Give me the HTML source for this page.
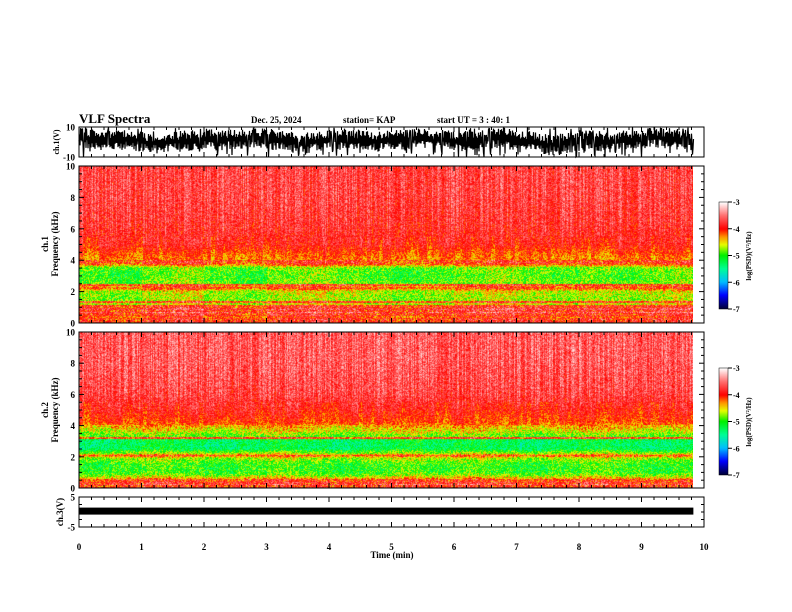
<!DOCTYPE html>
<html><head><meta charset="utf-8">
<style>
html,body{margin:0;padding:0;background:#fff;}
#root{position:relative;width:792px;height:612px;overflow:hidden;font-family:"Liberation Serif",serif;font-weight:bold;}
canvas{position:absolute;}
svg{position:absolute;left:0;top:0;}
text{font-family:"Liberation Serif",serif;font-weight:bold;fill:#000;}
</style></head>
<body>
<div id="root">
<canvas id="spec1" width="614" height="157" style="left:79px;top:166px"></canvas>
<canvas id="spec2" width="614" height="156" style="left:79px;top:332px"></canvas>
<canvas id="cb1" width="9" height="107" style="left:719px;top:202px"></canvas>
<canvas id="cb2" width="9" height="107" style="left:719px;top:368px"></canvas>
<svg id="ov" width="792" height="612">
<text x="79" y="123" font-size="13">VLF Spectra</text>
<text x="251" y="123" font-size="9">Dec. 25, 2024</text>
<text x="343" y="123" font-size="9">station= KAP</text>
<text x="437" y="123" font-size="9">start  UT =   3  : 40: 1</text>
<text x="392" y="558" font-size="9" text-anchor="middle">Time  (min)</text>
<text transform="translate(59,142) rotate(-90)" font-size="8" text-anchor="middle">ch.1(V)</text>
<text transform="translate(48,244) rotate(-90)" font-size="9" text-anchor="middle">ch.1</text>
<text transform="translate(58,244) rotate(-90)" font-size="9" text-anchor="middle">Frequency  (kHz)</text>
<text transform="translate(48,410) rotate(-90)" font-size="9" text-anchor="middle">ch.2</text>
<text transform="translate(58,410) rotate(-90)" font-size="9" text-anchor="middle">Frequency  (kHz)</text>
<text transform="translate(63,512) rotate(-90)" font-size="9" text-anchor="middle">ch.3(V)</text>
<text transform="translate(751,256) rotate(-90)" font-size="7" text-anchor="middle">log(PSD)(V²/Hz)</text>
<text transform="translate(751,422) rotate(-90)" font-size="7" text-anchor="middle">log(PSD)(V²/Hz)</text>
</svg>
</div>
<script>
// ---- data ----
const timeTicks = [0,1,2,3,4,5,6,7,8,9,10];
const freqTicks = [0,2,4,6,8,10];
const cbTicks = [-3,-4,-5,-6,-7];
const dataEndMin = 9.83;
const ch1Freqs = [0,0.2,0.35,0.5,0.7,0.9,1.1,1.5,2.0,2.2,2.35,2.5,3.0,3.5,3.75,3.9,4.3,5,6,8,10];
const ch1Psd   = [-3.9,-3.6,-4.2,-3.6,-3.5,-3.7,-4.5,-4.7,-4.6,-4.0,-4.3,-4.8,-4.9,-4.8,-4.0,-4.3,-4.2,-3.9,-3.8,-3.7,-3.7];
const ch1Lines = [0.15,0.55,0.75,0.95,1.05,1.3,2.25,2.4,3.8,3.95];
const ch2Freqs = [0,0.2,0.4,0.6,0.8,1.0,1.5,1.9,2.05,2.2,2.5,3.0,3.3,3.6,4.2,5,6,8,10];
const ch2Psd   = [-3.7,-3.5,-3.8,-4.3,-4.7,-4.9,-4.9,-4.6,-4.0,-4.6,-5.2,-5.2,-4.8,-4.5,-4.1,-3.9,-3.7,-3.6,-3.6];
const ch2Lines = [0.1,0.25,0.4,0.5,2.05,3.2];
// activity per 0.5 min (positive = stronger low-band emission)
const activity1 = [0.1,0.2,0.0,-0.1,0.1,0.2,0.0,-0.1,0.0,0.1,0.2,0.1,0.0,-0.1,0.0,0.1,0.0,0.1,0.0,-0.1];
const activity2 = [0.2,0.1,0.0,0.1,0.2,0.1,0.0,0.1,0.2,0.1,0.0,0.1,0.0,0.1,0.2,0.1,0.0,0.1,0.2,0.1];
// ch1 waveform mean level per 0.25 min (V)
const ch1Wave = [3,2,1,2,0,-1,0,1,2,1,2,3,2,1,-1,0,1,2,1,0,2,1,3,2,0,1,2,3,1,0,-2,-1,0,1,0,1,2,3,2,1];
const ch3Level = 0.3;

// ---- helpers ----
function hash(a,b){let h=(a*374761393+b*668265263)^0x5bd1e995;h=(h^(h>>>13))*1274126177;h=h^(h>>>16);return ((h>>>0)%10000)/10000;}
function interp(xs,ys,x){if(x<=xs[0])return ys[0];for(let i=1;i<xs.length;i++){if(x<=xs[i]){const t=(x-xs[i-1])/(xs[i]-xs[i-1]);return ys[i-1]+t*(ys[i]-ys[i-1]);}}return ys[ys.length-1];}
const cStops=[[-7,[0,0,60]],[-6.5,[0,0,255]],[-6,[0,190,255]],[-5.5,[0,255,150]],[-5,[0,240,0]],[-4.6,[230,255,0]],[-4.3,[255,150,0]],[-4,[255,0,0]],[-3.5,[255,110,110]],[-3,[255,255,255]]];
function cmap(v){if(v<=-7)return cStops[0][1];if(v>=-3)return cStops[cStops.length-1][1];for(let i=1;i<cStops.length;i++){if(v<=cStops[i][0]){const t=(v-cStops[i-1][0])/(cStops[i][0]-cStops[i-1][0]);const a=cStops[i-1][1],b=cStops[i][1];return [a[0]+t*(b[0]-a[0]),a[1]+t*(b[1]-a[1]),a[2]+t*(b[2]-a[2])];}}}
const X0=79,X1=704;
function xs(t){return X0+(X1-X0)*t/10;}

function drawSpec(id,freqs,psd,lines,act,seed){
  const c=document.getElementById(id),ctx=c.getContext('2d');
  const W=c.width,H=c.height,img=ctx.createImageData(W,H);
  for(let x=0;x<W;x++){
    const t=x/(X1-X0)*10;
    const a=act[Math.min(act.length-1,Math.floor(t*2))];
    const col=(hash(x,seed)-0.5)*0.45;
    for(let y=0;y<H;y++){
      const f=10*(1-y/(H-1));
      let v=interp(freqs,psd,f);
      for(const l of lines){if(Math.abs(f-l)<0.05)v=-3.9+ (hash(x,y+seed)-0.5)*0.6;}
      if(f>4) v+=col*Math.min(1,(f-4)/2)+ (hash(x>>2,seed+7)-0.5)*0.35*(f<5.5?1:0);
      else v-=a*1.0;
      v+=(hash(x*3+seed,y*7)-0.5)*(f<4?0.8:0.6);
      const rgb=cmap(v),i=(y*W+x)*4;
      img.data[i]=rgb[0];img.data[i+1]=rgb[1];img.data[i+2]=rgb[2];img.data[i+3]=255;
    }
  }
  ctx.putImageData(img,0,0);
}
drawSpec('spec1',ch1Freqs,ch1Psd,ch1Lines,activity1,11);
drawSpec('spec2',ch2Freqs,ch2Psd,ch2Lines,activity2,23);
['cb1','cb2'].forEach(id=>{const c=document.getElementById(id),ctx=c.getContext('2d');
  for(let y=0;y<c.height;y++){const v=-3-4*y/(c.height-1);const r=cmap(v);ctx.fillStyle=`rgb(${r[0]|0},${r[1]|0},${r[2]|0})`;ctx.fillRect(0,y,c.width,1);}});

// ---- overlay ----
const svg=document.getElementById('ov'),NS='http://www.w3.org/2000/svg';
function el(tag,attrs,parent){const e=document.createElementNS(NS,tag);for(const k in attrs)e.setAttribute(k,attrs[k]);(parent||svg).appendChild(e);return e;}
const panels=[
  {name:'ch1-waveform',top:127,bot:157,yTicks:[[10,'10'],[-10,'-10']],lo:-10,hi:10,minor:[]},
  {name:'ch1-spectrogram',top:166,bot:323,yTicks:freqTicks.map(v=>[v,String(v)]),lo:0,hi:10,minor:[1,3,5,7,9,0.5,1.5,2.5,3.5,4.5,5.5,6.5,7.5,8.5,9.5]},
  {name:'ch2-spectrogram',top:332,bot:488,yTicks:freqTicks.map(v=>[v,String(v)]),lo:0,hi:10,minor:[1,3,5,7,9,0.5,1.5,2.5,3.5,4.5,5.5,6.5,7.5,8.5,9.5]},
  {name:'ch3-waveform',top:497,bot:527,yTicks:[[5,'5'],[-5,'-5']],lo:-5,hi:5,minor:[-2.5,0,2.5]}
];
panels.forEach(p=>{
  const g=el('g',{});
  
  
  el('rect',{x:X0,y:p.top,width:X1-X0,height:p.bot-p.top,fill:'none',stroke:'#000','stroke-width':1},g);
  const ys=v=>p.bot-(v-p.lo)/(p.hi-p.lo)*(p.bot-p.top);
  for(let m=0;m<=50;m++){const t=m/5,x=xs(t),L=(m%5===0)?5:3;
    el('line',{x1:x,x2:x,y1:p.top,y2:p.top+L,stroke:'#000'},g);
    el('line',{x1:x,x2:x,y1:p.bot,y2:p.bot-L,stroke:'#000'},g);}
  p.yTicks.forEach(([v,lab])=>{const y=ys(v);
    el('line',{x1:X0,x2:X0+5,y1:y,y2:y,stroke:'#000'},g);
    el('line',{x1:X1,x2:X1-5,y1:y,y2:y,stroke:'#000'},g);
    const tx=el('text',{x:X0-4,y:y+3.5,'font-size':9,'text-anchor':'end'},g);tx.textContent=lab;});
  p.minor.forEach(v=>{const y=ys(v);
    el('line',{x1:X0,x2:X0+3,y1:y,y2:y,stroke:'#000'},g);
    el('line',{x1:X1,x2:X1-3,y1:y,y2:y,stroke:'#000'},g);});
});
// x tick labels
timeTicks.forEach(t=>{const tx=el('text',{x:xs(t),y:550,'font-size':9,'text-anchor':'middle'});
  
  
  tx.textContent=String(t);});
// ch1 waveform
(function(){const top=127,bot=157,yv=v=>top+(10-v)/20*(bot-top);let pts=[];
  const n=Math.round((xs(dataEndMin)-X0)*2);
  for(let i=0;i<=n;i++){const x=X0+i/2,t=(x-X0)/(X1-X0)*10;
    const k=t*4,i0=Math.min(ch1Wave.length-1,Math.floor(k)),i1=Math.min(ch1Wave.length-1,i0+1);
    const m=ch1Wave[i0]+(k-i0)*(ch1Wave[i1]-ch1Wave[i0]);
    let v=m+(i%2?4:-4)+(hash(i,5)-0.5)*6;
    const s=hash(i,9);if(s>0.95)v=-10+hash(i,3)*4;else if(s>0.92)v=10-hash(i,4)*3;
    v=Math.max(-10,Math.min(10,v));pts.push(x.toFixed(1)+','+yv(v).toFixed(1));}
  const pl=el('polyline',{points:pts.join(' '),fill:'none',stroke:'#000','stroke-width':1.2});
  
  })();
// ch3 waveform band
(function(){const top=497,bot=527,y=top+(5-ch3Level)/10*(bot-top);
  const r=el('rect',{x:X0,y:y-3.5,width:xs(dataEndMin)-X0,height:7,fill:'#000'});
  
  })();
// colorbar ticks
[[202,309],[368,475]].forEach(([t,b],k)=>{
  el('rect',{x:719,y:t,width:9,height:b-t,fill:'none',stroke:'#000','stroke-width':0.5});
  cbTicks.forEach(v=>{const y=t+(-3-v)/4*(b-t);
    el('line',{x1:728,x2:732,y1:y,y2:y,stroke:'#000'});
    const tx=el('text',{x:733,y:y+3,'font-size':8});
    
    
    tx.textContent=String(v);});
});
</script>
</body></html>
